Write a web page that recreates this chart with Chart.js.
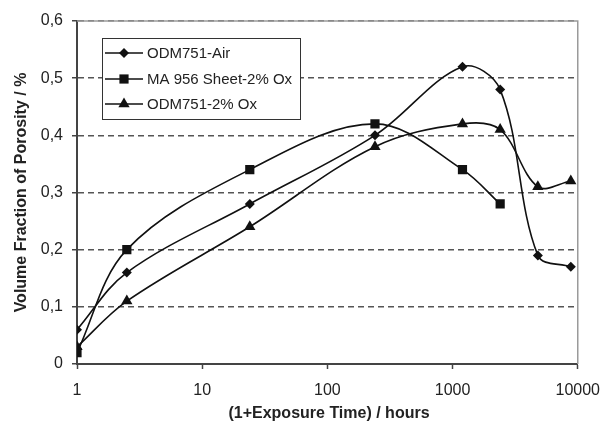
<!DOCTYPE html>
<html>
<head>
<meta charset="utf-8">
<script src="https://cdn.jsdelivr.net/npm/chart.js@4.4.1/dist/chart.umd.min.js"></script>
<style>
  html, body { margin: 0; padding: 0; background: #fff; }
  #wrap { width: 612px; height: 428px; }
</style>
</head>
<body>
<div id="wrap"><canvas id="chart" width="612" height="428"></canvas></div>
<script>
// exposure time (1 + t) in hours
const hours = [1, 2.5, 24, 240, 1200, 2400, 4800, 8800];

const seriesNames = ['ODM751-Air', 'MA 956 Sheet-2% Ox', 'ODM751-2% Ox'];
const airPorosity = [0.06, 0.16, 0.28, 0.40, 0.52, 0.48, 0.19, 0.17];
const ma956Porosity = [0.02, 0.20, 0.34, 0.42, 0.34, 0.28];
const odmOxPorosity = [0.03, 0.11, 0.24, 0.38, 0.42, 0.41, 0.31, 0.32];

const xTicks = [1, 10, 100, 1000, 10000];
const yTicks = [0, 0.1, 0.2, 0.3, 0.4, 0.5, 0.6];

const FONT = "'Liberation Sans', Arial, sans-serif";
const markers = ['rectRot', 'rect', 'triangle'];
const markerSize = [5, 6.5, 6.5];

function toPoints(values) {
    return values.map((v, i) => ({ x: hours[i], y: v }));
}

function drawMarker(ctx, style, r, x, y) {
    ctx.beginPath();
    if (style === 'rectRot') {
        ctx.moveTo(x, y - r); ctx.lineTo(x + r, y); ctx.lineTo(x, y + r); ctx.lineTo(x - r, y);
    } else if (style === 'rect') {
        const s = r * Math.SQRT1_2;
        ctx.rect(x - s, y - s, 2 * s, 2 * s);
    } else {
        for (let k = 0; k < 3; k++) {
            const a = k * 2 * Math.PI / 3;
            const px = x + Math.sin(a) * r, py = y - Math.cos(a) * r;
            if (k === 0) ctx.moveTo(px, py); else ctx.lineTo(px, py);
        }
    }
    ctx.closePath();
    ctx.fill();
}

// frame, legend and axis titles
const decorations = {
    id: 'decorations',
    afterDraw(chart) {
        const ctx = chart.ctx;
        const a = chart.chartArea;
        ctx.save();

        // top and right frame
        ctx.strokeStyle = '#9a9a9a';
        ctx.lineWidth = 1.5;
        ctx.setLineDash([]);
        ctx.beginPath();
        ctx.moveTo(a.left, a.top);
        ctx.lineTo(a.right, a.top);
        ctx.lineTo(a.right, a.bottom);
        ctx.stroke();

        // legend box
        ctx.fillStyle = '#fff';
        ctx.fillRect(102, 38, 198, 81);
        ctx.strokeStyle = '#333';
        ctx.lineWidth = 1;
        ctx.strokeRect(102.5, 38.5, 198, 81);
        const rows = [53, 79, 104];
        ctx.font = '15px ' + FONT;
        ctx.textBaseline = 'middle';
        ctx.textAlign = 'left';
        seriesNames.forEach((name, i) => {
            const y = rows[i];
            ctx.strokeStyle = '#111';
            ctx.lineWidth = 1.5;
            ctx.beginPath();
            ctx.moveTo(105, y);
            ctx.lineTo(143, y);
            ctx.stroke();
            ctx.fillStyle = '#111';
            drawMarker(ctx, markers[i], markerSize[i], 124, y);
            ctx.fillStyle = '#222';
            ctx.fillText(name, 147, y + 1);
        });

        // axis titles
        ctx.fillStyle = '#222';
        ctx.font = 'bold 16px ' + FONT;
        ctx.textAlign = 'center';
        ctx.fillText('(1+Exposure Time) / hours', 329, 414);
        ctx.translate(22, (a.top + a.bottom) / 2);
        ctx.rotate(-Math.PI / 2);
        ctx.fillText('Volume Fraction of Porosity / %', 0, 0);
        ctx.restore();
    }
};

const allSeries = [airPorosity, ma956Porosity, odmOxPorosity];

new Chart(document.getElementById('chart'), {
    type: 'line',
    data: {
        datasets: allSeries.map((vals, i) => ({
            label: seriesNames[i],
            data: toPoints(vals),
            borderColor: '#111',
            backgroundColor: '#111',
            borderWidth: 1.6,
            pointStyle: markers[i],
            pointRadius: markerSize[i],
            pointBorderWidth: 0,
            tension: 0.35,
            fill: false,
        })),
    },
    options: {
        responsive: false,
        animation: false,
        events: [],
        layout: { padding: { top: 21, right: 29, left: 0, bottom: 0 } },
        plugins: {
            legend: { display: false },
            tooltip: { enabled: false },
        },
        scales: {
            x: {
                type: 'logarithmic',
                min: 1,
                max: 10000,
                afterBuildTicks: (scale) => { scale.ticks = xTicks.map(v => ({ value: v })); },
                afterFit: (scale) => { scale.height = 64; },
                ticks: {
                    callback: (v) => String(v),
                    font: { family: FONT, size: 16 },
                    color: '#222',
                    padding: 12,
                    maxRotation: 0,
                },
                grid: {
                    drawOnChartArea: false,
                    tickLength: 5,
                    tickColor: '#444',
                    tickWidth: 1.5,
                },
                border: { color: '#444', width: 2 },
            },
            y: {
                min: 0,
                max: 0.6,
                afterBuildTicks: (scale) => { scale.ticks = yTicks.map(v => ({ value: v })); },
                afterFit: (scale) => { scale.width = 77; },
                ticks: {
                    callback: (v) => (v === 0 ? '0' : v.toFixed(1).replace('.', ',')),
                    font: { family: FONT, size: 16 },
                    color: '#222',
                    padding: 9,
                },
                grid: {
                    color: '#555',
                    lineWidth: 1.5,
                    tickLength: 5,
                    tickColor: '#444',
                    tickWidth: 1.5,
                },
                border: { color: '#444', width: 2, dash: [6, 4] },
            },
        },
    },
    plugins: [decorations],
});
</script>
</body>
</html>
